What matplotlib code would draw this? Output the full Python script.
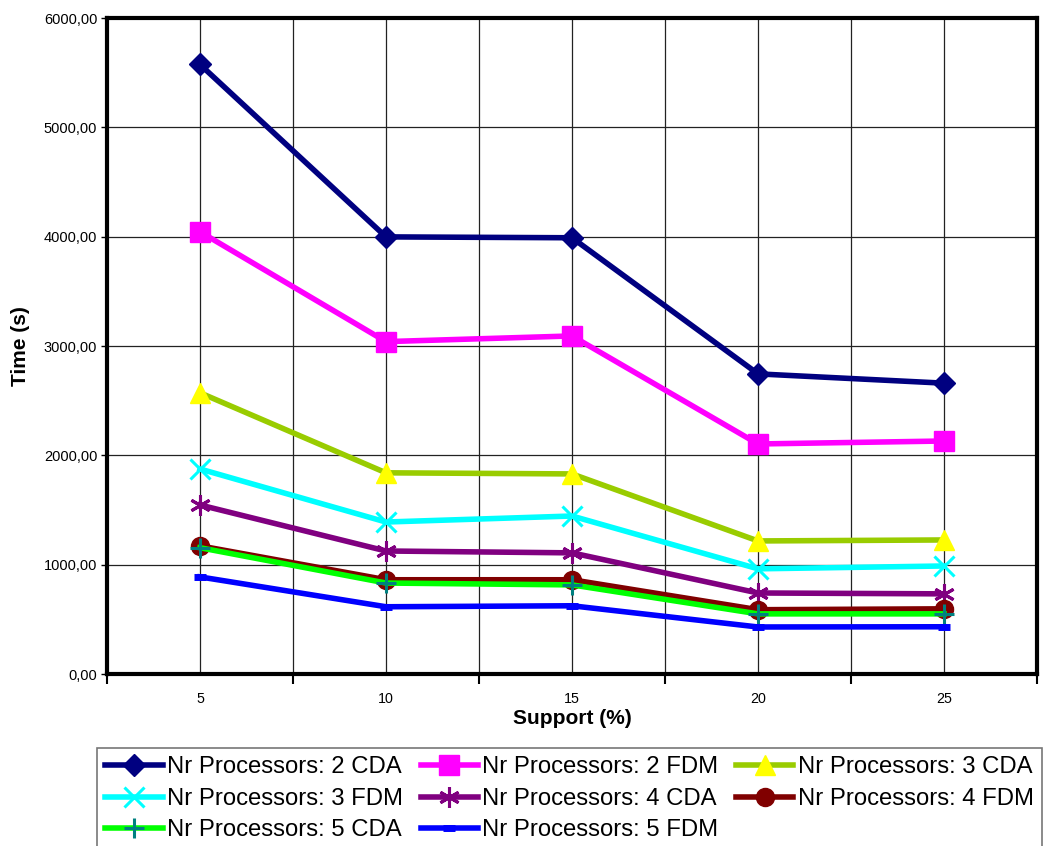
import matplotlib
matplotlib.use("Agg")
import matplotlib.pyplot as plt
import numpy as np
from matplotlib.ticker import FuncFormatter, FixedLocator

plt.rcParams['font.family'] = ['Liberation Sans', 'DejaVu Sans']

# data
support = ["5", "10", "15", "20", "25"]
cda_2 = [5575, 3998, 3990, 2745, 2660]
fdm_2 = [4045, 3040, 3092, 2104, 2131]
cda_3 = [2572, 1840, 1830, 1217, 1226]
fdm_3 = [1875, 1390, 1445, 962, 988]
cda_4 = [1546, 1125, 1108, 741, 733]
fdm_4 = [1172, 862, 862, 588, 596]
cda_5 = [1155, 832, 815, 550, 550]
fdm_5 = [888, 615, 624, 430, 432]

labels = ["Nr Processors: 2 CDA", "Nr Processors: 2 FDM", "Nr Processors: 3 CDA",
          "Nr Processors: 3 FDM", "Nr Processors: 4 CDA", "Nr Processors: 4 FDM",
          "Nr Processors: 5 CDA", "Nr Processors: 5 FDM"]

fig = plt.figure(figsize=(10.46, 8.46), dpi=100)
ax = fig.add_axes([107 / 1046, 1 - 674 / 846, 930 / 1046, 656 / 846])

x = np.arange(len(support))
lw = 4

# (values, line colour, marker, marker colour, marker size, marker edge width)
series = [
    (cda_2, "#000080", "D", "#000080", 11, 1),
    (fdm_2, "#FF00FF", "s", "#FF00FF", 14, 1),
    (cda_3, "#99CC00", "^", "#FFFF00", 14, 1),
    (fdm_3, "#00FFFF", "x", "#00FFFF", 14, 2.2),
    (cda_4, "#800080", (6, 2, 0), "#800080", 15, 2.2),
    (fdm_4, "#800000", "o", "#800000", 13, 1),
    (cda_5, "#00FF00", "+", "#008080", 15, 2.2),
    (fdm_5, "#0000FF", "_", "#0000FF", 8, 5),
]

handles = []
for (vals, col, mk, mcol, ms, mew), lab in zip(series, labels):
    h, = ax.plot(x, vals, color=col, lw=lw, marker=mk, markersize=ms,
                 markerfacecolor=mcol, markeredgecolor=mcol, markeredgewidth=mew,
                 label=lab, solid_joinstyle='miter', zorder=3)
    handles.append(h)

ax.set_xlim(-0.5, 4.5)
ax.set_ylim(0, 6000)

ax.set_xticks(x)
ax.set_xticklabels(support, fontsize=10.3)
ax.xaxis.set_minor_locator(FixedLocator(np.arange(-0.5, 5, 1.0)))
ax.tick_params(axis='x', which='major', length=0, pad=13)
ax.tick_params(axis='x', which='minor', length=7, width=1.5, direction='out')

ax.set_yticks(np.arange(0, 6001, 1000))
ax.yaxis.set_major_formatter(FuncFormatter(lambda v, p: f"{v:.2f}".replace('.', ',')))
ax.tick_params(axis='y', labelsize=10.5, length=4, width=1, direction='out', pad=3)

ax.grid(True, which='major', color='#222222', lw=0.9)
ax.grid(True, which='minor', axis='x', color='#222222', lw=0.9)
ax.set_axisbelow(True)

for sp in ax.spines.values():
    sp.set_linewidth(3)
    sp.set_color('black')

ax.set_ylabel("Time (s)", fontsize=15, fontweight='bold', labelpad=10)
ax.set_xlabel("Support (%)", fontsize=15, fontweight='bold', labelpad=2)

# legend is filled row by row in the reference, matplotlib fills by column
order = [0, 3, 6, 1, 4, 7, 2, 5]
leg = fig.legend([handles[i] for i in order], [labels[i] for i in order],
                 loc='upper left', bbox_to_anchor=(97 / 1046, 1 - 748 / 846),
                 ncol=3, fontsize=17.2, frameon=True, fancybox=False,
                 handlelength=2.4, handletextpad=0.17, columnspacing=0.75,
                 labelspacing=0.4, borderpad=0.35, borderaxespad=0)
leg.get_frame().set_edgecolor('#555555')
leg.get_frame().set_linewidth(1.2)

fig.savefig("out.png", dpi=100)
